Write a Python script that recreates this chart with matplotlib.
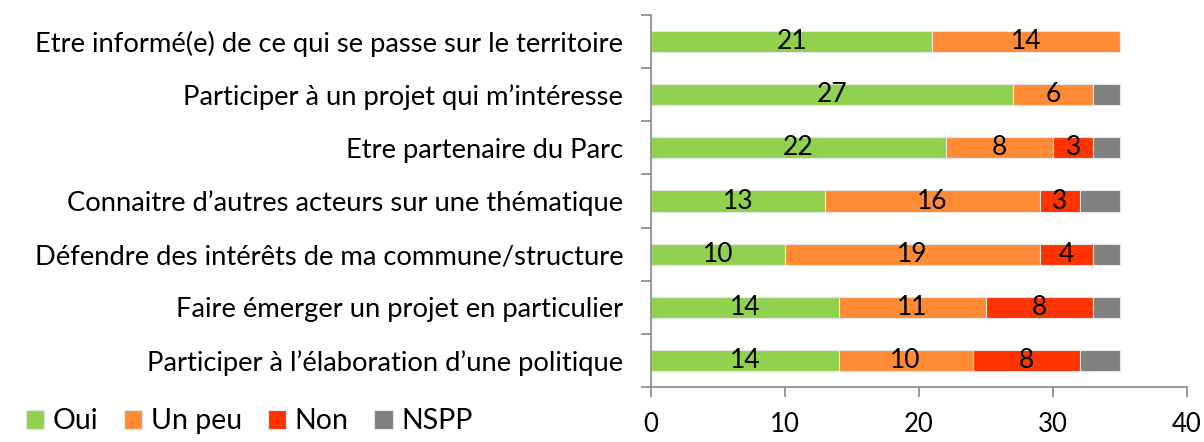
import matplotlib.pyplot as plt
import numpy as np

plt.rcParams['font.family'] = ['Lato', 'DejaVu Sans']

categories = [
    "Etre informé(e) de ce qui se passe sur le territoire",
    "Participer à un projet qui m\u2019intéresse",
    "Etre partenaire du Parc",
    "Connaitre d\u2019autres acteurs sur une thématique",
    "Défendre des intérêts de ma commune/structure",
    "Faire émerger un projet en particulier",
    "Participer à l\u2019élaboration d\u2019une politique",
]
oui = [21, 27, 22, 13, 10, 14, 14]
un_peu = [14, 6, 8, 16, 19, 11, 10]
non = [0, 0, 3, 3, 4, 8, 8]
nspp = [0, 2, 2, 3, 2, 2, 3]

series = [("Oui", oui, "#92D050", True),
          ("Un peu", un_peu, "#FF8B37", True),
          ("Non", non, "#FF3300", True),
          ("NSPP", nspp, "#808080", False)]

fig = plt.figure(figsize=(12.04, 4.42), dpi=100)
ax = fig.add_axes([651 / 1204, 55 / 442, 536 / 1204, 372 / 442])

y = np.arange(len(categories))
left = np.zeros(len(categories))
for name, vals, col, show in series:
    vals = np.array(vals, dtype=float)
    bars = ax.barh(y, vals, left=left, height=0.4, color=col,
                   edgecolor="#e6e6e6", linewidth=0.8, label=name)
    if show:
        for b, v in zip(bars, vals):
            if v > 0:
                ax.text(b.get_x() + b.get_width() / 2, b.get_y() + b.get_height() / 2,
                        f"{int(v)}", ha="center", va="center", fontsize=19)
    left += vals

ax.set_xlim(0, 40)
ax.set_ylim(len(categories) - 0.5, -0.5)
ax.set_xticks([0, 10, 20, 30, 40])
ax.set_yticks(y)
ax.set_yticklabels(categories, fontsize=19.7)
ax.set_yticks(np.arange(-0.5, len(categories)), minor=True)
ax.tick_params(axis="y", which="major", length=0, pad=20)
ax.tick_params(axis="y", which="minor", length=7, color="#868686", width=1.2)
ax.tick_params(axis="x", length=7, color="#868686", width=1.2, labelsize=18.5, pad=11)
for s in ["top", "right"]:
    ax.spines[s].set_visible(False)
for s in ["left", "bottom"]:
    ax.spines[s].set_color("#868686")
    ax.spines[s].set_linewidth(1.2)

fig.legend(loc="lower left", bbox_to_anchor=(0.0, -0.04), ncol=4, frameon=False,
           fontsize=20.5, handlelength=0.65, handleheight=0.65, handletextpad=0.3,
           columnspacing=0.9)

fig.savefig("out.png", dpi=100)
